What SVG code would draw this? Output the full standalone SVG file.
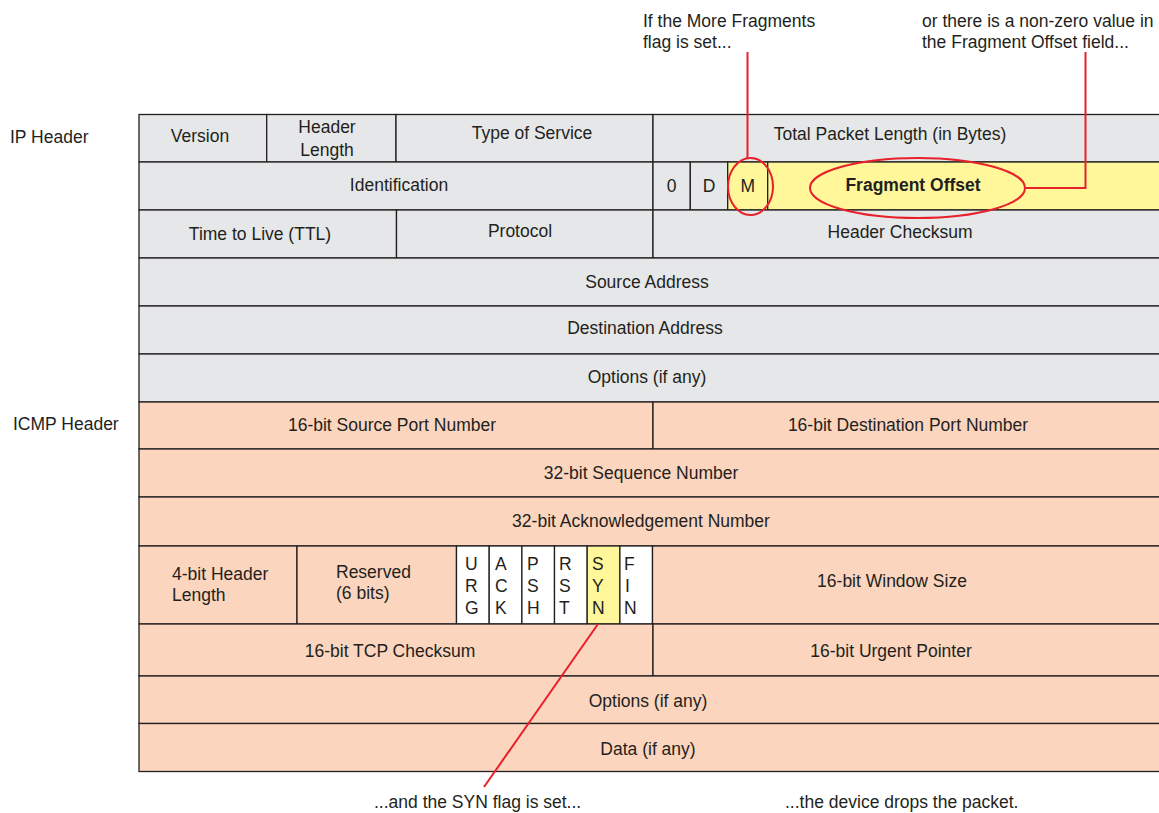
<svg xmlns="http://www.w3.org/2000/svg" width="1159" height="813" viewBox="0 0 1159 813">
<style>
text{font-family:"Liberation Sans",Arial,sans-serif;font-size:17.5px;fill:#231f20}
.c{text-anchor:middle}
.b{font-weight:bold}
.g{fill:#e6e7e8;stroke:#231f20;stroke-width:1.3}
.o{fill:#fcd5be;stroke:#231f20;stroke-width:1.3}
.y{fill:#fff799;stroke:#231f20;stroke-width:1.3}
.w{fill:#ffffff;stroke:#231f20;stroke-width:1.3}
.r{fill:none;stroke:#e8202a;stroke-width:2}
</style>
<rect width="1159" height="813" fill="#ffffff"/>
<g id="labels">
<text x="10" y="143">IP Header</text>
<text x="13" y="430">ICMP Header</text>
</g>
<g id="ip-header">
<g id="version"><rect class="g" x="139" y="114.5" width="127.7" height="47.5"/><text class="c" x="200" y="142">Version</text></g>
<g id="header-length"><rect class="g" x="266.7" y="114.5" width="129.3" height="47.5"/><text class="c" x="327" y="133">Header</text><text class="c" x="327" y="156">Length</text></g>
<g id="type-of-service"><rect class="g" x="396" y="114.5" width="257" height="47.5"/><text class="c" x="532" y="139">Type of Service</text></g>
<g id="total-length"><rect class="g" x="653" y="114.5" width="508" height="47.5"/><text class="c" x="890" y="140">Total Packet Length (in Bytes)</text></g>
<g id="identification"><rect class="g" x="139" y="162" width="514" height="48"/><text class="c" x="399" y="191">Identification</text></g>
<g id="flag-0"><rect class="g" x="653" y="162" width="37.3" height="48"/><text class="c" x="671.5" y="192">0</text></g>
<g id="flag-d"><rect class="g" x="690.3" y="162" width="37.4" height="48"/><text class="c" x="709" y="192">D</text></g>
<g id="flag-m"><rect class="y" x="727.7" y="162" width="40" height="48"/><text class="c" x="747.7" y="192">M</text></g>
<g id="fragment-offset"><rect class="y" x="767.7" y="162" width="393.3" height="48"/><text class="c b" x="913" y="191">Fragment Offset</text></g>
<g id="ttl"><rect class="g" x="139" y="210" width="257.5" height="48"/><text class="c" x="260" y="240">Time to Live (TTL)</text></g>
<g id="protocol"><rect class="g" x="396.5" y="210" width="256.5" height="48"/><text class="c" x="520" y="237">Protocol</text></g>
<g id="header-checksum"><rect class="g" x="653" y="210" width="508" height="48"/><text class="c" x="900" y="238">Header Checksum</text></g>
<g id="source-address"><rect class="g" x="139" y="258" width="1022" height="48"/><text class="c" x="647" y="288">Source Address</text></g>
<g id="destination-address"><rect class="g" x="139" y="306" width="1022" height="48"/><text class="c" x="645" y="334">Destination Address</text></g>
<g id="ip-options"><rect class="g" x="139" y="354" width="1022" height="48"/><text class="c" x="647" y="383">Options (if any)</text></g>
</g>
<g id="icmp-header">
<g id="source-port"><rect class="o" x="139" y="402" width="514" height="47"/><text class="c" x="392" y="431">16-bit Source Port Number</text></g>
<g id="destination-port"><rect class="o" x="653" y="402" width="508" height="47"/><text class="c" x="908" y="431">16-bit Destination Port Number</text></g>
<g id="sequence"><rect class="o" x="139" y="449" width="1022" height="48"/><text class="c" x="641" y="479">32-bit Sequence Number</text></g>
<g id="acknowledgement"><rect class="o" x="139" y="497" width="1022" height="49"/><text class="c" x="641" y="527">32-bit Acknowledgement Number</text></g>
<g id="tcp-header-length"><rect class="o" x="139" y="546" width="158" height="78"/><text x="172" y="580">4-bit Header</text><text x="172" y="601">Length</text></g>
<g id="reserved"><rect class="o" x="297" y="546" width="159.5" height="78"/><text x="336" y="578">Reserved</text><text x="336" y="599">(6 bits)</text></g>
<g id="flag-urg"><rect class="w" x="456.5" y="546" width="32.7" height="78"/><text x="465" y="570">U</text><text x="465" y="592">R</text><text x="465" y="614">G</text></g>
<g id="flag-ack"><rect class="w" x="489.2" y="546" width="32.7" height="78"/><text x="495" y="570">A</text><text x="495" y="592">C</text><text x="495" y="614">K</text></g>
<g id="flag-psh"><rect class="w" x="521.9" y="546" width="32.6" height="78"/><text x="527" y="570">P</text><text x="527" y="592">S</text><text x="527" y="614">H</text></g>
<g id="flag-rst"><rect class="w" x="554.5" y="546" width="32.7" height="78"/><text x="559" y="570">R</text><text x="559" y="592">S</text><text x="559" y="614">T</text></g>
<g id="flag-syn"><rect class="y" x="587.2" y="546" width="32.7" height="78"/><text x="592" y="570">S</text><text x="592" y="592">Y</text><text x="592" y="614">N</text></g>
<g id="flag-fin"><rect class="w" x="619.9" y="546" width="32.6" height="78"/><text x="624" y="570">F</text><text x="625" y="592">I</text><text x="624" y="614">N</text></g>
<g id="window-size"><rect class="o" x="652.5" y="546" width="508.5" height="78"/><text class="c" x="892" y="587">16-bit Window Size</text></g>
<g id="tcp-checksum"><rect class="o" x="139" y="624" width="514" height="52"/><text class="c" x="390" y="657">16-bit TCP Checksum</text></g>
<g id="urgent-pointer"><rect class="o" x="653" y="624" width="508" height="52"/><text class="c" x="891" y="657">16-bit Urgent Pointer</text></g>
<g id="tcp-options"><rect class="o" x="139" y="676" width="1022" height="47.5"/><text class="c" x="648" y="707">Options (if any)</text></g>
<g id="data"><rect class="o" x="139" y="723.5" width="1022" height="48"/><text class="c" x="648" y="755">Data (if any)</text></g>
</g>
<g id="annotations">
<text x="643" y="27">If the More Fragments</text>
<text x="643" y="48">flag is set...</text>
<text x="922" y="27">or there is a non-zero value in</text>
<text x="922" y="48">the Fragment Offset field...</text>
<text x="374" y="808">...and the SYN flag is set...</text>
<text x="785" y="808">...the device drops the packet.</text>
</g>
<g id="connectors">
<ellipse class="r" cx="750.5" cy="186.5" rx="22.5" ry="28.5"/>
<ellipse class="r" cx="917.5" cy="188" rx="107.5" ry="30"/>
<line class="r" x1="747.5" y1="52" x2="747.5" y2="158"/>
<polyline class="r" points="1025,188 1085.5,188 1085.5,52"/>
<line class="r" x1="598" y1="624" x2="484" y2="787"/>
</g>
</svg>
